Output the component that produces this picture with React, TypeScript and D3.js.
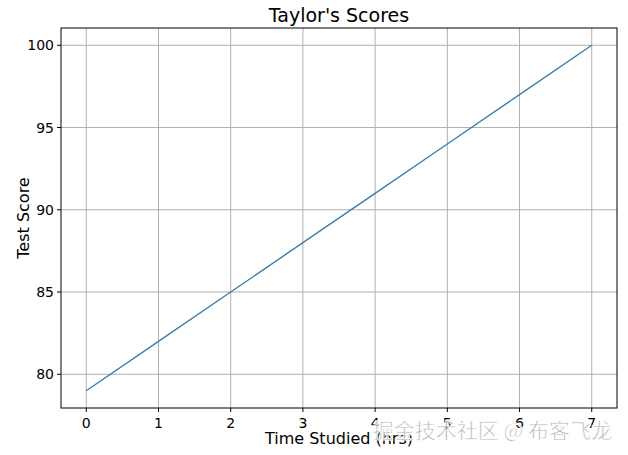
import React from "react";
import * as d3 from "d3";

const hours = [0, 1, 2, 3, 4, 5, 6, 7];
const scores = [79, 82, 85, 88, 91, 94, 97, 100];
const xTicks = [0, 1, 2, 3, 4, 5, 6, 7];
const yTicks = [80, 85, 90, 95, 100];
const title = "Taylor's Scores";
const xLabel = "Time Studied (hrs)";
const yLabel = "Test Score";
const watermark = "掘金技术社区 @ 布客飞龙";

const W = 628;
const H = 455;
const m = { left: 61, right: 11, top: 28, bottom: 47 };

export default function App() {
  const x = d3.scaleLinear().domain([-0.35, 7.35]).range([m.left, W - m.right]);
  const y = d3.scaleLinear().domain([77.95, 101.05]).range([H - m.bottom, m.top]);
  const line = d3
    .line<number>()
    .x((_, i) => x(hours[i]))
    .y((d) => y(d));
  const font = "'DejaVu Sans', sans-serif";
  return (
    <svg
      width={W}
      height={H}
      style={{ position: "absolute", left: 0, top: 0, background: "#fff" }}
      fontFamily={font}
    >
      <rect x={0} y={0} width={W} height={H} fill="#fff" />
      {xTicks.map((t) => (
        <line key={"gx" + t} x1={x(t)} x2={x(t)} y1={m.top} y2={H - m.bottom} stroke="#b0b0b0" strokeWidth={1} />
      ))}
      {yTicks.map((t) => (
        <line key={"gy" + t} x1={m.left} x2={W - m.right} y1={y(t)} y2={y(t)} stroke="#b0b0b0" strokeWidth={1} />
      ))}
      <path d={line(scores) || ""} fill="none" stroke="#3a7fae" strokeWidth={1.4} />
      <rect
        x={m.left}
        y={m.top}
        width={W - m.left - m.right}
        height={H - m.top - m.bottom}
        fill="none"
        stroke="#000"
        strokeWidth={1}
      />
      {xTicks.map((t) => (
        <g key={"tx" + t}>
          <line x1={x(t)} x2={x(t)} y1={H - m.bottom} y2={H - m.bottom + 4} stroke="#000" />
          <text x={x(t)} y={H - m.bottom + 20} fontSize={14} textAnchor="middle" fill="#000">
            {t}
          </text>
        </g>
      ))}
      {yTicks.map((t) => (
        <g key={"ty" + t}>
          <line x1={m.left - 4} x2={m.left} y1={y(t)} y2={y(t)} stroke="#000" />
          <text x={m.left - 7} y={y(t) + 5} fontSize={14} textAnchor="end" fill="#000">
            {t}
          </text>
        </g>
      ))}
      <text x={(m.left + W - m.right) / 2} y={22} fontSize={19} textAnchor="middle" fill="#000">
        {title}
      </text>
      <text x={(m.left + W - m.right) / 2} y={444} fontSize={16} textAnchor="middle" fill="#000">
        {xLabel}
      </text>
      <text
        transform={`translate(29,${(m.top + H - m.bottom) / 2}) rotate(-90)`}
        fontSize={16}
        textAnchor="middle"
        fill="#000"
      >
        {yLabel}
      </text>
      <text
        x={612}
        y={438}
        fontSize={21}
        textAnchor="end"
        fill="#8a8a8a"
        fillOpacity={0.85}
        stroke="#fff"
        strokeWidth={0.8}
        fontFamily="'Noto Sans CJK SC', sans-serif"
      >
        {watermark}
      </text>
    </svg>
  );
}
